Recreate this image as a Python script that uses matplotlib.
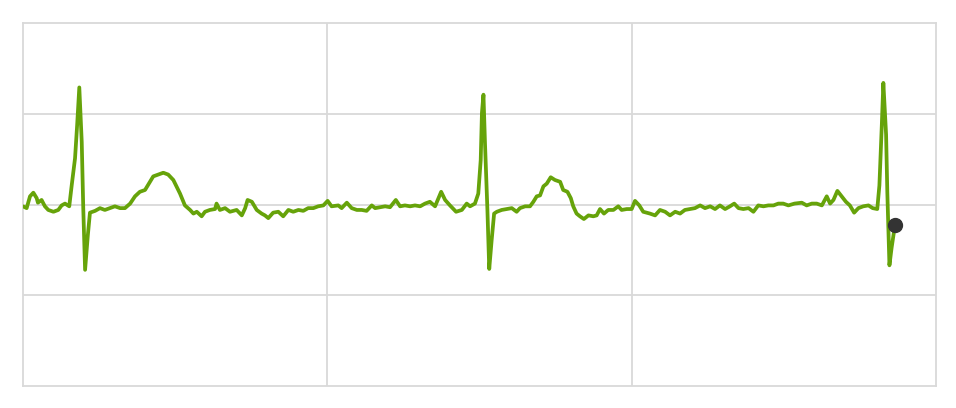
import matplotlib
matplotlib.use("Agg")
import matplotlib.pyplot as plt

# Time (s) and amplitude (grid units)
time_s = [0.000, 0.012, 0.023, 0.034, 0.045, 0.049, 0.061, 0.072, 0.083, 0.100,
          0.116, 0.127, 0.138, 0.152, 0.160, 0.171, 0.178, 0.185, 0.193, 0.198,
          0.204, 0.213, 0.220, 0.237, 0.253, 0.269, 0.286, 0.302, 0.319, 0.335,
          0.352, 0.368, 0.384, 0.401, 0.417, 0.428, 0.445, 0.461, 0.477, 0.494,
          0.510, 0.516, 0.532, 0.549, 0.560, 0.571, 0.587, 0.598, 0.614, 0.631,
          0.636, 0.647, 0.664, 0.680, 0.702, 0.719, 0.730, 0.738, 0.752, 0.768,
          0.784, 0.795, 0.806, 0.822, 0.839, 0.855, 0.872, 0.888, 0.905, 0.921,
          0.937, 0.954, 0.970, 0.987, 1.001, 1.014, 1.036, 1.047, 1.064, 1.080,
          1.097, 1.113, 1.129, 1.146, 1.157, 1.173, 1.190, 1.206, 1.225, 1.239,
          1.255, 1.272, 1.288, 1.305, 1.321, 1.337, 1.354, 1.374, 1.387, 1.403,
          1.423, 1.442, 1.458, 1.469, 1.485, 1.496, 1.504, 1.508, 1.513, 1.518,
          1.526, 1.532, 1.540, 1.548, 1.557, 1.573, 1.590, 1.606, 1.622, 1.633,
          1.650, 1.666, 1.677, 1.688, 1.699, 1.710, 1.721, 1.734, 1.748, 1.765,
          1.775, 1.789, 1.800, 1.808, 1.819, 1.830, 1.843, 1.858, 1.874, 1.885,
          1.896, 1.909, 1.923, 1.940, 1.956, 1.967, 1.984, 2.000, 2.011, 2.025,
          2.038, 2.060, 2.077, 2.093, 2.110, 2.126, 2.143, 2.159, 2.175, 2.192,
          2.208, 2.225, 2.241, 2.258, 2.274, 2.290, 2.307, 2.323, 2.337, 2.351,
          2.367, 2.384, 2.400, 2.416, 2.433, 2.449, 2.466, 2.482, 2.498, 2.515,
          2.535, 2.559, 2.575, 2.592, 2.608, 2.625, 2.641, 2.652, 2.663, 2.676,
          2.690, 2.704, 2.717, 2.731, 2.745, 2.761, 2.778, 2.792, 2.807, 2.814,
          2.822, 2.827, 2.836, 2.840, 2.847, 2.854, 2.865]

ecg_mv = [-0.02, -0.04, 0.09, 0.13, 0.07, 0.02, 0.05, -0.02, -0.06, -0.08,
          -0.06, -0.01, 0.01, -0.02, 0.21, 0.51, 0.88, 1.29, 0.69, -0.04,
          -0.72, -0.34, -0.09, -0.07, -0.04, -0.06, -0.04, -0.02, -0.04, -0.04,
          0.01, 0.09, 0.14, 0.16, 0.25, 0.31, 0.33, 0.35, 0.33, 0.27,
          0.16, 0.12, -0.01, -0.06, -0.10, -0.08, -0.13, -0.08, -0.06, -0.05,
          0.01, -0.06, -0.04, -0.08, -0.06, -0.12, -0.04, 0.05, 0.03, -0.06,
          -0.10, -0.12, -0.15, -0.09, -0.08, -0.13, -0.06, -0.08, -0.06, -0.07,
          -0.04, -0.04, -0.02, -0.01, 0.04, -0.02, -0.01, -0.04, 0.02, -0.04,
          -0.06, -0.06, -0.07, -0.01, -0.04, -0.03, -0.02, -0.03, 0.05, -0.02,
          -0.01, -0.02, -0.01, -0.02, 0.01, 0.03, -0.02, 0.14, 0.05, -0.01,
          -0.08, -0.06, 0.01, -0.02, 0.01, 0.12, 0.49, 1.01, 1.21, 0.68,
          -0.06, -0.71, -0.39, -0.10, -0.08, -0.06, -0.05, -0.04, -0.08, -0.04,
          -0.02, -0.02, 0.03, 0.09, 0.10, 0.20, 0.23, 0.30, 0.27, 0.25,
          0.16, 0.14, 0.07, -0.02, -0.10, -0.13, -0.16, -0.12, -0.13, -0.12,
          -0.05, -0.10, -0.06, -0.06, -0.02, -0.06, -0.05, -0.05, 0.04, -0.01,
          -0.08, -0.10, -0.12, -0.06, -0.08, -0.12, -0.08, -0.10, -0.06, -0.05,
          -0.04, -0.01, -0.04, -0.02, -0.05, -0.01, -0.05, -0.02, 0.01, -0.04,
          -0.05, -0.04, -0.08, -0.01, -0.02, -0.01, -0.01, 0.01, 0.01, -0.01,
          0.01, 0.02, -0.01, 0.01, 0.01, -0.01, 0.09, 0.01, 0.05, 0.15,
          0.09, 0.03, -0.01, -0.09, -0.04, -0.02, -0.01, -0.04, -0.05, 0.21,
          0.88, 1.34, 0.77, 0.14, -0.67, -0.48, -0.23]

x_range = (0, 3)
y_range = (-2, 2)
x_grid = [1, 2]
y_grid = [-1, 0, 1]

line_color = "#66a30a"
dot_color = "#333333"
grid_color = "#d9d9d9"

fig = plt.figure(figsize=(9.56, 4.08), dpi=100)
ax = fig.add_axes([23 / 956, 22 / 408, 913 / 956, 363 / 408])

ax.set_xlim(*x_range)
ax.set_ylim(*y_range)
ax.set_xticks(x_grid)
ax.set_yticks(y_grid)
ax.tick_params(length=0, labelbottom=False, labelleft=False)
ax.grid(True, color=grid_color, linewidth=1.3)
ax.set_axisbelow(True)
for s in ax.spines.values():
    s.set_color(grid_color)
    s.set_linewidth(1.3)

ax.plot(time_s, ecg_mv, color=line_color, linewidth=2.7,
        solid_joinstyle="round", solid_capstyle="round", zorder=3)
ax.plot([time_s[-1]], [ecg_mv[-1]], marker="o", markersize=10,
        color=dot_color, linestyle="none", zorder=4)

fig.savefig("out.png", dpi=100)
